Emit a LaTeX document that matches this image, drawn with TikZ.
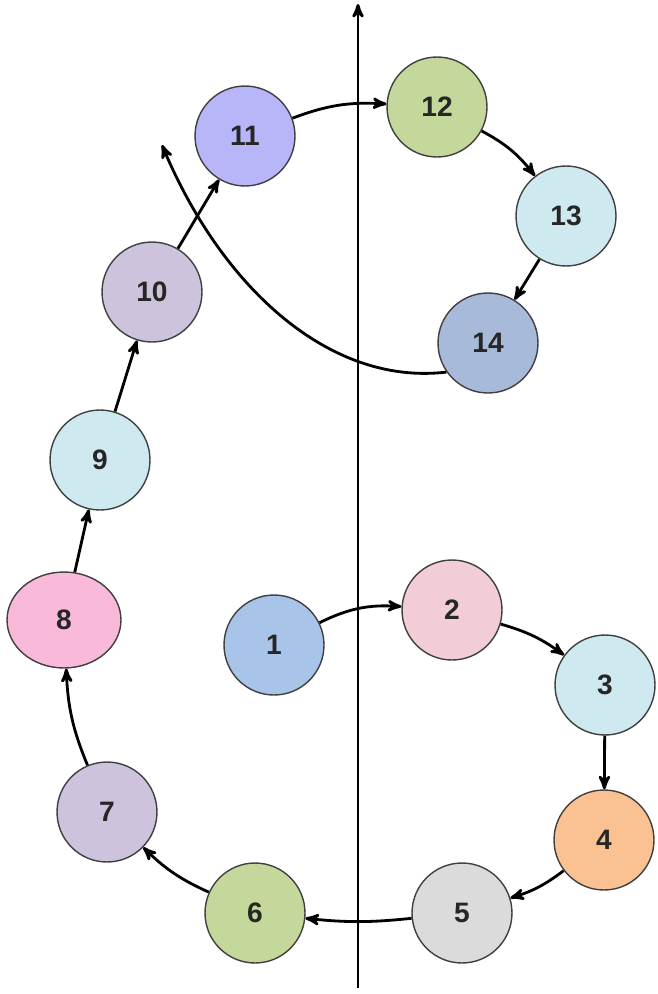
\documentclass[tikz,border=0pt]{standalone}
\usepackage{fontspec}
\setmainfont{Liberation Sans}
\usetikzlibrary{shapes, shapes.geometric, arrows, positioning}

\definecolor{cblue}{HTML}{A9C4E9}
\definecolor{cpink}{HTML}{F2CDD5}
\definecolor{ccyan}{HTML}{CFE9F1}
\definecolor{corange}{HTML}{FAC292}
\definecolor{cgray}{HTML}{DBDBDB}
\definecolor{cgreen}{HTML}{C4D89C}
\definecolor{clilac}{HTML}{CDC3DC}
\definecolor{crose}{HTML}{F9BADA}
\definecolor{cviolet}{HTML}{B6B6F9}
\definecolor{csteel}{HTML}{A8BAD9}

\begin{document}
\begin{tikzpicture}[
  x=0.02cm, y=-0.02cm,
  stage/.style={circle, draw=black!75, line width=0.8pt, minimum size=2cm,
    font=\fontsize{16}{18}\selectfont\bfseries, text=black!85},
  link/.style={->, >=stealth', line width=1.6pt},
  thick]

  \useasboundingbox (0,0) rectangle (658,994);

  % axis
  \coordinate (axisbot) at (358,988);
  \coordinate (axistop) at (358,4);
  \draw[link] (axisbot) -- (axistop);

  % lower loop
  \node[stage, fill=cblue] (n1) at (274,645) {1};
  \node[stage, fill=cpink] (n2) at (452,610) {2};
  \node[stage, fill=ccyan] (n3) at (605,685) {3};
  \node[stage, fill=corange] (n4) at (604,840) {4};
  \node[stage, fill=cgray] (n5) at (462,913) {5};
  \node[stage, fill=cgreen] (n6) at (255,913) {6};
  \node[stage, fill=clilac] (n7) at (107,812) {7};
  \node[stage, ellipse, fill=crose, minimum width=2.28cm, minimum height=1.92cm] (n8) at (64,620) {8};

  % upper loop
  \node[stage, fill=ccyan] (n9) at (100,460) {9};
  \node[stage, fill=clilac] (n10) at (152,292) {10};
  \node[stage, fill=cviolet] (n11) at (245,136) {11};
  \node[stage, fill=cgreen] (n12) at (437,107) {12};
  \node[stage, fill=ccyan] (n13) at (566,216) {13};
  \node[stage, fill=csteel] (n14) at (488,343) {14};

  \coordinate (back) at (162,145);

  \draw[link] (n1) to[bend left=15] (n2);
  \draw[link] (n2) to[bend left=10] (n3);
  \draw[link] (n3) -- (n4);
  \draw[link] (n4) to[bend left=10] (n5);
  \draw[link] (n5) to[bend left=6] (n6);
  \draw[link] (n6) to[bend left=10] (n7);
  \draw[link] (n7) to[bend left=10] (n8);
  \draw[link] (n8) -- (n9);
  \draw[link] (n9) -- (n10);
  \draw[link] (n10) -- (n11);
  \draw[link] (n11) to[bend left=12] (n12);
  \draw[link] (n12) to[bend left=12] (n13);
  \draw[link] (n13) -- (n14);
  \draw[link] (n14.215) .. controls (330,386) and (222,288) .. (back);
\end{tikzpicture}
\end{document}
